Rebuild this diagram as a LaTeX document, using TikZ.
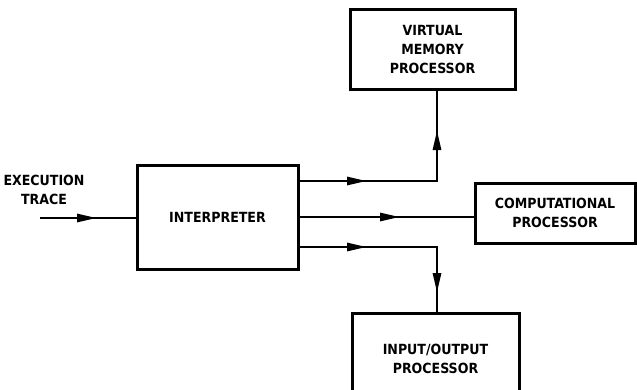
\documentclass[tikz,border=0pt]{standalone}
\usepackage{fontspec}
\newfontfamily\lblfont{DejaVu Sans Condensed}
\usetikzlibrary{arrows.meta}

\begin{document}
\begin{tikzpicture}[
			x=1pt, y=-1pt,
			every node/.style={font=\lblfont\bfseries\fontsize{14}{19}\selectfont, align=center},
			box/.style={draw, line width=3pt, inner sep=0pt},
			flow/.style={line width=2.8pt},
			tip/.style={-{Triangle[length=20pt, width=8pt]}},
			line cap=butt,
			line join=miter
			]
			\useasboundingbox (0,0) rectangle (637,389);
			
			% Boxes
			\node[box, minimum width=161pt, minimum height=104pt] (interp) at (217.5,217) {INTERPRETER};
			\node[box, minimum width=165pt, minimum height=80pt] (vmp) at (432.5,49) {VIRTUAL\\ MEMORY\\PROCESSOR};
			\node[box, minimum width=160pt, minimum height=60pt] (cpu) at (555,213) {COMPUTATIONAL\\ PROCESSOR};
			\node[box, minimum width=167pt, minimum height=92pt] (iop) at (435.5,359) {INPUT/OUTPUT\\ PROCESSOR};
			
			% Input
			\node (trace) at (44,190) {EXECUTION\\TRACE};
			\coordinate (in) at (40,218);
			\coordinate (inmid) at (97,218);
			\draw[flow, tip] (in) -- (inmid);
			\draw[flow] ([xshift=-8pt]inmid) -- (interp.west |- in);
			
			% To virtual memory processor
			\coordinate (up0) at ([yshift=36pt]interp.east);
			\coordinate (up1) at (367,181);
			\coordinate (up2) at (437,181);
			\coordinate (up3) at (437,130);
			\draw[flow, tip] (up0) -- (up1);
			\draw[flow, tip] ([xshift=-8pt]up1) -- (up2) -- (up3);
			\draw[flow] ([yshift=-8pt]up3) -- (up2 |- vmp.south);
			
			% To computational processor
			\coordinate (mid1) at (400,217);
			\draw[flow, tip] (interp.east) -- (mid1);
			\draw[flow] ([xshift=-8pt]mid1) -- (mid1 -| cpu.west);
			
			% To input/output processor
			\coordinate (dn0) at ([yshift=-30pt]interp.east);
			\coordinate (dn1) at (367,247);
			\coordinate (dn2) at (437,247);
			\coordinate (dn3) at (437,293);
			\draw[flow, tip] (dn0) -- (dn1);
			\draw[flow, tip] ([xshift=-8pt]dn1) -- (dn2) -- (dn3);
			\draw[flow] ([yshift=8pt]dn3) -- (dn2 |- iop.north);
		\end{tikzpicture}
\end{document}
